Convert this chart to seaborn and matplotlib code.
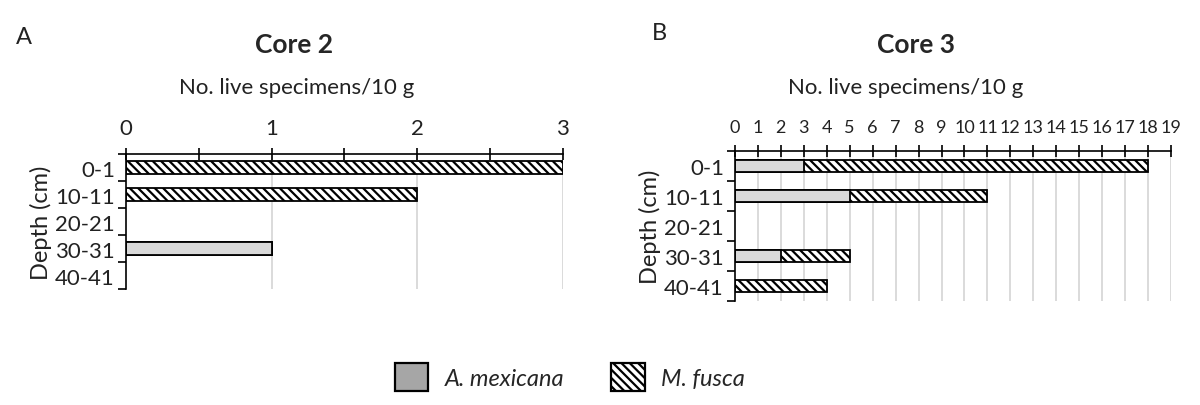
import matplotlib
matplotlib.use("Agg")
import matplotlib.pyplot as plt
from matplotlib.patches import Patch
import seaborn as sns
import pandas as pd

depths = ["0-1", "10-11", "20-21", "30-31", "40-41"]
core2_mexicana = [0, 0, 0, 1, 0]
core2_fusca = [3, 2, 0, 0, 0]
core3_mexicana = [3, 5, 0, 2, 0]
core3_fusca = [15, 6, 0, 3, 4]

sns.set_theme(style="white")
plt.rcParams["font.family"] = ["Lato", "DejaVu Sans"]

GRAY = "#d9d9d9"
HATCH = "\\\\\\\\"
plt.rcParams["hatch.linewidth"] = 1.6


def draw_core(ax, mex, fus, xmax, minor_step, bar_w, tick_size):
    df = pd.DataFrame({"depth": depths, "mex": mex,
                       "total": [m + f for m, f in zip(mex, fus)]})
    # full bar hatched (M. fusca), gray part (A. mexicana) drawn over from 0
    sns.barplot(data=df, y="depth", x="total", orient="h", ax=ax,
                color="white", edgecolor="black", linewidth=1.3,
                hatch=HATCH, width=bar_w, order=depths)
    sns.barplot(data=df, y="depth", x="mex", orient="h", ax=ax,
                color=GRAY, edgecolor="black", linewidth=1.3,
                width=bar_w, order=depths, saturation=1)
    for p in ax.patches:
        if p.get_width() == 0:
            p.set_visible(False)
    ax.set_xlim(0, xmax)
    ax.set_ylim(4.5, -0.5)
    ax.xaxis.tick_top()
    ax.set_xticks(range(0, xmax + 1))
    ax.set_xticks([i * minor_step for i in range(int(xmax / minor_step) + 1)], minor=True)
    ax.tick_params(axis="x", which="both", direction="inout", length=9, width=1.2,
                   labelsize=tick_size, pad=7, colors="black", top=True, bottom=False)
    ax.tick_params(axis="x", which="major", labelcolor="#222222")
    for x in range(1, xmax + 1):
        ax.axvline(x, color="#d4d4d4", lw=1.2, zorder=0)
    ax.set_yticks(range(5))
    ax.set_yticklabels(depths)
    ax.set_yticks([i + 0.5 for i in range(-1, 5)], minor=True)
    ax.tick_params(axis="y", which="major", length=0, labelsize=16, pad=8, labelcolor="#222222")
    ax.tick_params(axis="y", which="minor", direction="out", length=6, width=1.2,
                   left=True, color="black")
    for side in ["right", "bottom"]:
        ax.spines[side].set_visible(False)
    for side in ["top", "left"]:
        ax.spines[side].set_color("black")
        ax.spines[side].set_linewidth(1.2)
    ax.set_xlabel("")
    ax.set_ylabel("Depth (cm)", fontsize=17, labelpad=2, color="#222222")


fig = plt.figure(figsize=(12, 4.06), dpi=100)
ax1 = fig.add_axes([0.105, 0.2857, 0.364, 0.3325])
ax2 = fig.add_axes([0.6125, 0.256, 0.3633, 0.369])

draw_core(ax1, core2_mexicana, core2_fusca, 3, 0.5, 0.45, 16)
draw_core(ax2, core3_mexicana, core3_fusca, 19, 1, 0.4, 13)

fig.text(0.013, 1 - 38 / 406, "A", fontsize=17, va="center", color="#222222")
fig.text(0.245, 1 - 45 / 406, "Core 2", fontsize=19, fontweight="bold", ha="center", va="center")
fig.text(0.247, 1 - 88 / 406, "No. live specimens/10 g", fontsize=16, ha="center", va="center", color="#222222")
fig.text(0.543, 1 - 33 / 406, "B", fontsize=17, va="center", color="#222222")
fig.text(0.763, 1 - 45 / 406, "Core 3", fontsize=19, fontweight="bold", ha="center", va="center")
fig.text(0.755, 1 - 88 / 406, "No. live specimens/10 g", fontsize=16, ha="center", va="center", color="#222222")

handles = [Patch(facecolor="#a6a6a6", edgecolor="black", linewidth=1.6, label="A. mexicana"),
           Patch(facecolor="white", edgecolor="black", linewidth=1.6, hatch=HATCH, label="M. fusca")]
fig.legend(handles=handles, loc="center", bbox_to_anchor=(0.475, 1 - 378 / 406), ncol=2,
           frameon=False, prop={"style": "italic", "size": 17}, handlelength=1.4,
           handleheight=1.4, columnspacing=2.0, handletextpad=0.7)

fig.savefig("out.png", dpi=100)
